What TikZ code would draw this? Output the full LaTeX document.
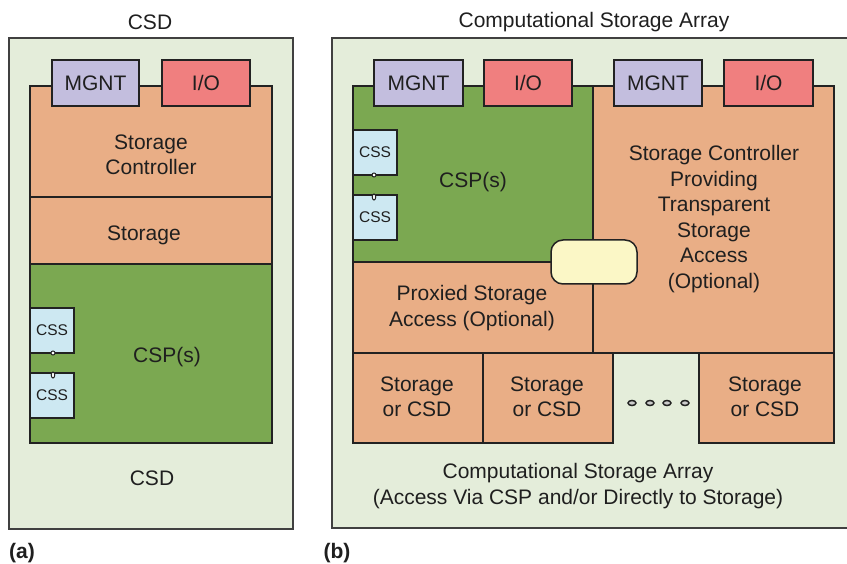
\documentclass[tikz,border=0pt]{standalone}
\usepackage{fontspec}
\setmainfont{Liberation Sans}
\usetikzlibrary{shapes.geometric}
\definecolor{panel}{HTML}{E4EDDA}
\definecolor{orng}{HTML}{E9AE86}
\definecolor{grn}{HTML}{7BA851}
\definecolor{mgnt}{HTML}{C3BEDE}
\definecolor{iocol}{HTML}{F07F7F}
\definecolor{csscol}{HTML}{CDE8F2}
\definecolor{yel}{HTML}{FBF7C6}
\definecolor{edge}{HTML}{222222}
\newcommand\bx[7]{\node[#6, minimum width={#4pt-#2pt}, minimum height={#5pt-#3pt}, anchor=north west] (#1) at (#2,#3) {#7};}
\begin{document}
\begin{tikzpicture}[x=1pt,y=-1pt,
  every node/.style={inner sep=0pt, outer sep=0pt},
  blk/.style={draw=edge, line width=1.5pt, align=center},
  big/.style={font=\fontsize{21}{25.5}\selectfont, align=center, text=black!88},
  small/.style={font=\fontsize{15.5}{18}\selectfont, text=black!88},
  dotmark/.style={draw=edge, fill=white!80!black, line width=1.5pt, ellipse, minimum width=8pt, minimum height=5pt},
  tinymark/.style={draw=edge, fill=white, line width=1pt},
]
\useasboundingbox (0,0) rectangle (847,564);
% ---------- panel (a) ----------
\bx{panA}{9}{38}{293}{529}{draw=black!75, fill=panel, line width=1.2pt}{}
\node[big] (titA) at (150,22) {CSD};
\bx{ctrlA}{30}{86}{272}{197}{blk, fill=orng}{}
\bx{storA}{30}{197}{272}{264}{blk, fill=orng}{}
\bx{cspA}{30}{264}{272}{443}{blk, fill=grn}{}
\bx{mgA}{52}{60}{139}{106}{blk, fill=mgnt, big}{MGNT}
\bx{ioA}{162}{60}{250}{106}{blk, fill=iocol, big}{I/O}
\node[big] (tctrlA) at (151,155) {Storage\\Controller};
\node[big] (tstorA) at (144,235) {Storage};
\node[big] (tcspA) at (167,357) {CSP(s)};
\bx{cssA1}{30}{308}{74}{353}{blk, fill=csscol, small}{CSS}
\bx{cssA2}{30}{373}{74}{418}{blk, fill=csscol, small}{CSS}
\node[tinymark, circle, minimum size=4pt] (cA1) at ([xshift=1pt]cssA1.south) {};
\node[tinymark, ellipse, minimum width=3.5pt, minimum height=6pt] (cA2) at ([xshift=1pt,yshift=-2pt]cssA2.north) {};
\node[big] (tcsdA) at (152,478) {CSD};
\node[big, font=\fontsize{21}{25.5}\selectfont\bfseries] (labA) at (22,553) {(a)};
% ---------- panel (b) ----------
\bx{panB}{332}{38}{850}{528}{fill=panel}{}
\draw[draw=black!75, line width=1.2pt] (panB.north east) -- (panB.north west) -- (panB.south west) -- (panB.south east);
\node[big] (titB) at (594,22) {Computational Storage Array};
\bx{cspB}{353}{86}{593}{262}{blk, fill=grn}{}
\bx{proxB}{353}{262}{593}{353}{blk, fill=orng}{}
\bx{ctrlB}{593}{86}{834}{353}{blk, fill=orng}{}
\bx{s1}{353}{353}{483}{443}{blk, fill=orng}{}
\bx{s2}{483}{353}{613}{443}{blk, fill=orng}{}
\bx{s3}{699}{353}{834}{443}{blk, fill=orng}{}
\bx{mgB1}{374}{60}{463}{106}{blk, fill=mgnt, big}{MGNT}
\bx{ioB1}{484}{60}{572}{106}{blk, fill=iocol, big}{I/O}
\bx{mgB2}{614}{60}{702}{106}{blk, fill=mgnt, big}{MGNT}
\bx{ioB2}{724}{60}{813}{106}{blk, fill=iocol, big}{I/O}
\bx{cssB1}{353}{130}{397}{175}{blk, fill=csscol, small}{CSS}
\bx{cssB2}{353}{195}{397}{240}{blk, fill=csscol, small}{CSS}
\node[tinymark, circle, minimum size=4pt] (cB1) at ([xshift=-1pt]cssB1.south) {};
\node[tinymark, ellipse, minimum width=3.5pt, minimum height=6pt] (cB2) at ([xshift=-1pt,yshift=-2pt]cssB2.north) {};
\bx{yelB}{551}{240}{637}{284}{blk, fill=yel, rounded corners=12pt}{}
\node[big] (tcspB) at (473,182) {CSP(s)};
\node[big] (tctrlB) at (714,219) {Storage Controller\\Providing\\Transparent\\Storage\\Access\\(Optional)};
\node[big] (tproxB) at (472,308) {Proxied Storage\\Access (Optional)};
\node[big] (ts1) at (417,397) {Storage\\or CSD};
\node[big] (ts2) at (547,397) {Storage\\or CSD};
\node[big] (ts3) at (765,397) {Storage\\or CSD};
\node[dotmark] (d1) at (632,403) {};
\node[dotmark] (d2) at (650,403) {};
\node[dotmark] (d3) at (667,403) {};
\node[dotmark] (d4) at (685,403) {};
\node[big] (tarr) at (578,486) {Computational Storage Array\\(Access Via CSP and/or Directly to Storage)};
\node[big, font=\fontsize{21}{25.5}\selectfont\bfseries] (labB) at (337,553) {(b)};
\end{tikzpicture}
\end{document}
